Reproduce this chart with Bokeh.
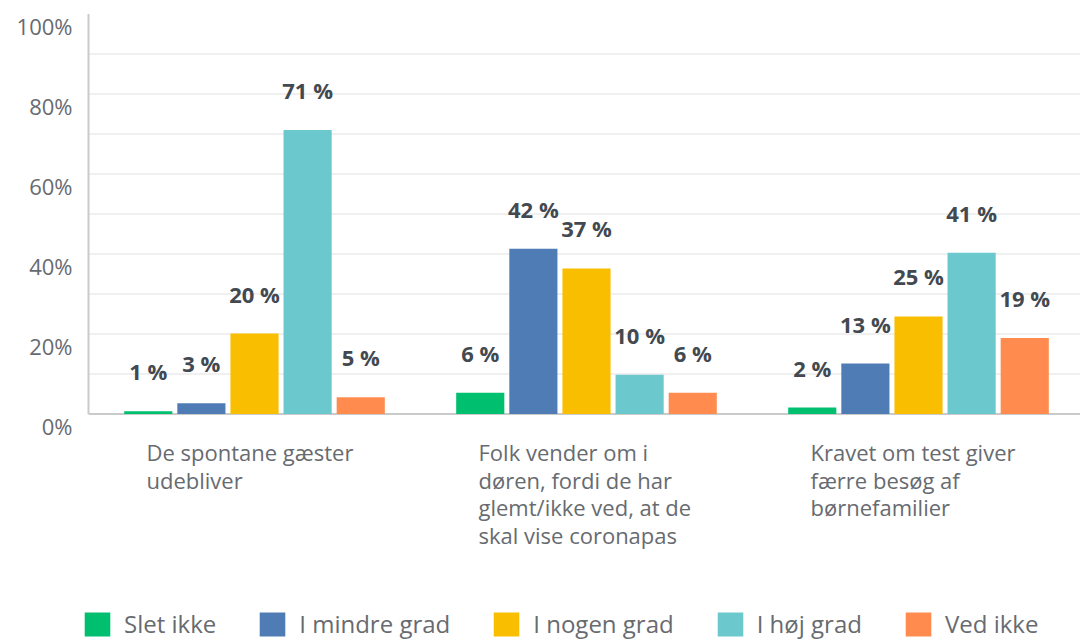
from bokeh.plotting import figure
from bokeh.models import ColumnDataSource, Range1d, LabelSet, Legend, LegendItem
from bokeh.core.properties import value
from bokeh.embed import file_html
from bokeh.resources import INLINE

# ---- data ----
categories = [
    "De spontane gæster\nudebliver",
    "Folk vender om i\ndøren, fordi de har\nglemt/ikke ved, at de\nskal vise coronapas",
    "Kravet om test giver\nfærre besøg af\nbørnefamilier",
]
series = ["Slet ikke", "I mindre grad", "I nogen grad", "I høj grad", "Ved ikke"]
# bar heights (percent, as drawn)
slet_ikke = [0.7, 5.3, 1.6]
i_mindre_grad = [2.7, 41.3, 12.6]
i_nogen_grad = [20.1, 36.4, 24.4]
i_hoej_grad = [71.0, 9.8, 40.3]
ved_ikke = [4.2, 5.3, 19.0]
# rounded labels shown above bars
slet_ikke_lbl = [1, 6, 2]
i_mindre_grad_lbl = [3, 42, 13]
i_nogen_grad_lbl = [20, 37, 25]
i_hoej_grad_lbl = [71, 10, 41]
ved_ikke_lbl = [5, 6, 19]
y_tick_labels = [0, 20, 40, 60, 80, 100]
grid_ticks = [10, 20, 30, 40, 50, 60, 70, 80, 90]

colors = ["#00BF6F", "#507CB6", "#F9BE00", "#6BC8CD", "#FF8B4F"]
values = [slet_ikke, i_mindre_grad, i_nogen_grad, i_hoej_grad, ved_ikke]
labels = [slet_ikke_lbl, i_mindre_grad_lbl, i_nogen_grad_lbl, i_hoej_grad_lbl, ved_ikke_lbl]

FONT = "Open Sans"
TEXT = "#676b70"
DARK = "#434950"
AXIS = "#cacaca"

W, H = 1080, 640
X_END = (W - 88) / 332
# the frame covers the whole canvas so that every label can be drawn inside it
p = figure(width=W, height=H, output_backend="svg", toolbar_location=None,
           x_range=Range1d(-88 / 332, X_END), y_range=Range1d((413.5 - H) / 4, 413.5 / 4),
           min_border=0)
p.outline_line_color = None
p.xaxis.visible = False
p.yaxis.visible = False
p.grid.grid_line_color = None

# gridlines every 10 %
p.segment(x0=[0] * len(grid_ticks), x1=[X_END] * len(grid_ticks), y0=grid_ticks, y1=grid_ticks,
          line_color="#ebebeb", line_width=1.5)
# axis lines
p.segment(x0=[0], x1=[0], y0=[y_tick_labels[0]], y1=[y_tick_labels[-1]], line_color=AXIS, line_width=2)
p.segment(x0=[0], x1=[X_END], y0=[y_tick_labels[0]], y1=[y_tick_labels[0]], line_color=AXIS, line_width=2)

pitch = 0.16
bw = 0.145

renderers = []
for j, (name, vals, lbls, col) in enumerate(zip(series, values, labels, colors)):
    xs = [i + 0.5 + (j - 2) * pitch for i in range(len(categories))]
    src = ColumnDataSource(dict(x=xs, top=vals, txt=[f"{v} %" for v in lbls]))
    r = p.vbar(x="x", top="top", width=bw, bottom=0, source=src, fill_color=col, line_color=None)
    renderers.append((name, r))
    p.add_layout(LabelSet(x="x", y="top", text="txt", source=src, y_offset=31,
                          text_align="center", text_baseline="alphabetic",
                          text_font=value(FONT), text_font_size="22px", text_font_style="bold",
                          text_color=DARK))

# y tick labels (drawn slightly below their gridline, as in the original)
ysrc = ColumnDataSource(dict(x=[0] * len(y_tick_labels), y=y_tick_labels,
                             t=[f"{v}%" for v in y_tick_labels]))
p.add_layout(LabelSet(x="x", y="y", text="t", source=ysrc, x_offset=-16, y_offset=-12,
                      text_align="right", text_baseline="middle",
                      text_font=value(FONT), text_font_size="22px", text_color=TEXT))

# category labels
csrc = ColumnDataSource(dict(x=[i + 0.5 for i in range(len(categories))], y=[0] * len(categories),
                             t=categories))
p.add_layout(LabelSet(x="x", y="y", text="t", source=csrc, x_offset=-108, y_offset=-23,
                      text_align="left", text_baseline="top",
                      text_font=value(FONT), text_font_size="22px", text_color=TEXT,
                      text_line_height=0.92))

legend = Legend(items=[LegendItem(label=n, renderers=[r]) for n, r in renderers],
                orientation="horizontal", location=(81, 0),
                glyph_width=32, glyph_height=30, label_standoff=11, spacing=40,
                padding=0, margin=0, border_line_color=None, background_fill_alpha=0,
                label_text_font=FONT, label_text_font_size="24px", label_text_color=TEXT)
p.add_layout(legend, "center")

open("out.html", "w").write(file_html(p, INLINE))
